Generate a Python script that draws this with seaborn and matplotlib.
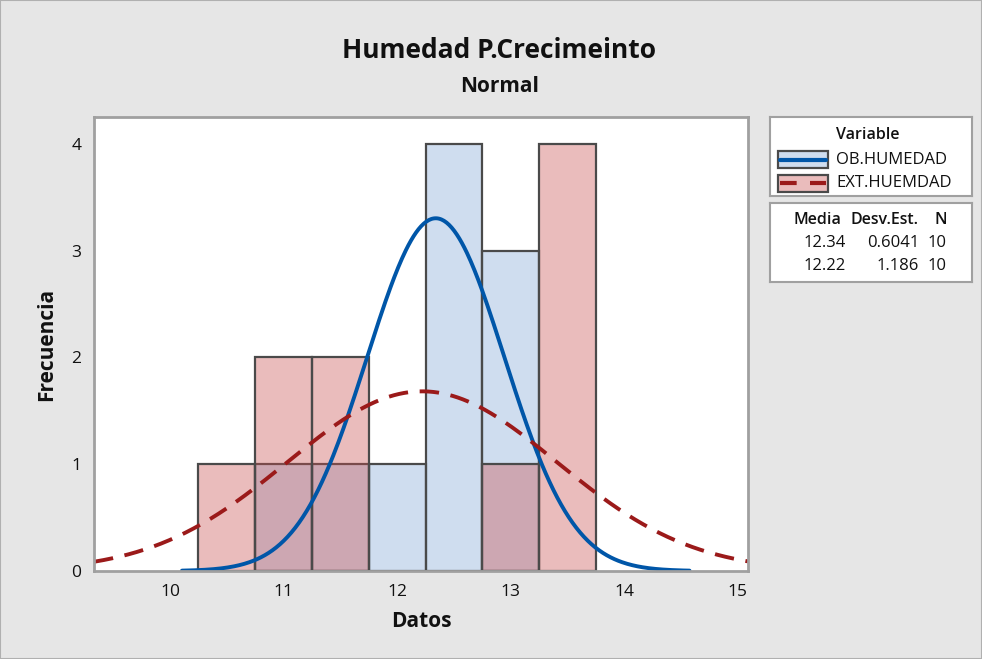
import numpy as np
import pandas as pd
import matplotlib
matplotlib.use("Agg")
import matplotlib.pyplot as plt
from matplotlib.patches import Rectangle
from matplotlib.lines import Line2D
import seaborn as sns

# ---- data ----
bin_edges = [10.25, 10.75, 11.25, 11.75, 12.25, 12.75, 13.25, 13.75]
bin_centers = [10.5, 11.0, 11.5, 12.0, 12.5, 13.0, 13.5]
ob_counts = [0, 1, 1, 1, 4, 3, 0]
ext_counts = [1, 2, 2, 0, 0, 1, 4]
series_names = ["OB.HUMEDAD", "EXT.HUEMDAD"]
means = [12.34, 12.22]
sds = [0.6041, 1.186]
ns = [10, 10]
x_ticks = [10, 11, 12, 13, 14, 15]
y_ticks = [0, 1, 2, 3, 4]

sns.set_theme(style="white")
plt.rcParams["font.family"] = ["Open Sans", "DejaVu Sans"]

BG = "#e6e6e6"
BLUE_FILL = (129/255, 168/255, 213/255)
RED_FILL = (202/255, 79/255, 79/255)
BLUE_LINE = "#0056a8"
RED_LINE = "#9b1a1a"
EDGE = "#4a4a4a"
SPINE = "#a0a0a0"
TXT = "#111111"

fig = plt.figure(figsize=(9.82, 6.59), dpi=100, facecolor=BG)
fig.patches.append(Rectangle((0, 0), 1, 1, transform=fig.transFigure,
                             fill=False, edgecolor="#b0b0b0", lw=1.5))

ax = fig.add_axes([94/982, 1 - 571/659, (748-94)/982, (571-117)/659])
ax.set_facecolor("white")

df_ob = pd.DataFrame({"x": bin_centers, "w": ob_counts})
df_ext = pd.DataFrame({"x": bin_centers, "w": ext_counts})

sns.histplot(data=df_ob, x="x", weights="w", bins=bin_edges, ax=ax,
             color=BLUE_FILL, alpha=0.38, edgecolor=EDGE, linewidth=1.6)
sns.histplot(data=df_ext, x="x", weights="w", bins=bin_edges, ax=ax,
             color=RED_FILL, alpha=0.38, edgecolor=EDGE, linewidth=1.6)
for p in ax.patches:
    if p.get_height() == 0:
        p.set_visible(False)

width = bin_edges[1] - bin_edges[0]
xlim = (9.33, 15.09)
# fitted normal curves (scaled to counts)
for m, s, n, col, ls, span in [(means[0], sds[0], ns[0], BLUE_LINE, "-", 3.7),
                               (means[1], sds[1], ns[1], RED_LINE, (0, (5, 3)), 6)]:
    xs = np.linspace(max(xlim[0], m - span*s), min(xlim[1], m + span*s), 400)
    ys = n * width * np.exp(-0.5*((xs - m)/s)**2) / (s*np.sqrt(2*np.pi))
    sns.lineplot(x=xs, y=ys, ax=ax, color=col, lw=2.8, linestyle=ls)

ax.set_xlim(*xlim)
ax.set_ylim(0, 4.25)
ax.set_xticks(x_ticks)
ax.set_yticks(y_ticks)
ax.tick_params(axis="both", direction="out", length=5, width=2, color=SPINE,
               labelsize=12.5, labelcolor=TXT, pad=4)
for sp in ax.spines.values():
    sp.set_color(SPINE)
    sp.set_linewidth(2)
ax.set_xlabel("Datos", fontsize=15, fontweight="bold", labelpad=8, color=TXT)
ax.set_ylabel("Frecuencia", fontsize=15, fontweight="bold", labelpad=10, color=TXT)

fig.text(0.5085, 1 - 50/659, "Humedad P.Crecimeinto", ha="center", va="center",
         fontsize=19, fontweight="bold", color=TXT)
fig.text(0.5085, 1 - 86/659, "Normal", ha="center", va="center",
         fontsize=15, fontweight="bold", color=TXT)

# legend box
lax = fig.add_axes([770/982, 1 - 196/659, 202/982, 79/659])
lax.set_xlim(0, 202); lax.set_ylim(79, 0)
lax.set_xticks([]); lax.set_yticks([])
lax.set_facecolor("white")
for sp in lax.spines.values():
    sp.set_color(SPINE); sp.set_linewidth(1.5)
lax.text(98, 18, "Variable", ha="center", va="center", fontsize=11.5,
         fontweight="semibold", color=TXT)
items = [(series_names[0], BLUE_FILL, BLUE_LINE, "-", 42.5),
         (series_names[1], RED_FILL, RED_LINE, (0, (4, 3.2)), 66)]
for name, fc, lc, ls, yy in items:
    lax.add_patch(Rectangle((8, yy - 8.5), 50, 17, facecolor=fc, alpha=0.38,
                            edgecolor="none"))
    lax.add_patch(Rectangle((8, yy - 8.5), 50, 17, fill=False, edgecolor=EDGE, lw=1.6))
    lax.add_line(Line2D([10, 56], [yy, yy], color=lc, lw=3, linestyle=ls))
    lax.text(66, yy, name, ha="left", va="center", fontsize=12, color=TXT)

# stats box
sax = fig.add_axes([770/982, 1 - 282/659, 202/982, 79/659])
sax.set_xlim(0, 202); sax.set_ylim(79, 0)
sax.set_xticks([]); sax.set_yticks([])
sax.set_facecolor("white")
for sp in sax.spines.values():
    sp.set_color(SPINE); sp.set_linewidth(1.5)
sax.text(71, 17, "Media", ha="right", va="center", fontsize=11.5, fontweight="semibold", color=TXT)
sax.text(148, 17, "Desv.Est.", ha="right", va="center", fontsize=11.5, fontweight="semibold", color=TXT)
sax.text(177, 17, "N", ha="right", va="center", fontsize=11.5, fontweight="semibold", color=TXT)
for i, yy in enumerate([40, 63]):
    sax.text(76, yy, f"{means[i]:.2f}", ha="right", va="center", fontsize=12, color=TXT)
    sax.text(149, yy, f"{sds[i]:.4g}", ha="right", va="center", fontsize=12, color=TXT)
    sax.text(177, yy, f"{ns[i]}", ha="right", va="center", fontsize=12, color=TXT)

fig.savefig("out.png", dpi=100, facecolor=BG)
